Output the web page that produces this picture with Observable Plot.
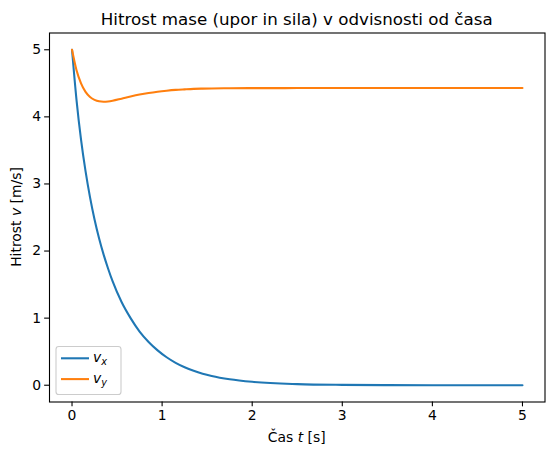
<!DOCTYPE html>
<html>
<head>
<meta charset="utf-8">
<script src="https://cdn.jsdelivr.net/npm/d3@7"></script>
<script src="https://cdn.jsdelivr.net/npm/@observablehq/plot@0.6"></script>
<style>
  html, body { margin: 0; padding: 0; background: white; }
  #chart svg { display: block; }
</style>
</head>
<body>
<div id="chart"></div>
<script>
// Time samples [s] and values
const tValues = [0, 0.05, 0.1, 0.15, 0.2, 0.25, 0.3, 0.35, 0.4, 0.45, 0.55, 0.65, 0.75, 0.85, 0.95, 1.05, 1.15, 1.25, 1.35, 1.45, 1.55, 1.75, 2.0, 2.5, 3.0, 3.5, 4.0, 4.5, 5.0];
const vxValues = [5, 4.25, 3.66, 3.19, 2.80, 2.47, 2.19, 1.95, 1.74, 1.55, 1.24, 1.00, 0.80, 0.645, 0.52, 0.417, 0.334, 0.268, 0.215, 0.172, 0.138, 0.089, 0.051, 0.017, 0.0055, 0.0018, 0.0006, 0.0002, 0.0001];
const vyValues = [5, 4.695, 4.50, 4.373, 4.297, 4.254, 4.232, 4.226, 4.230, 4.240, 4.271, 4.303, 4.332, 4.356, 4.375, 4.390, 4.402, 4.410, 4.417, 4.421, 4.424, 4.426, 4.428, 4.429, 4.429, 4.429, 4.429, 4.429, 4.429];
const xTicks = [0, 1, 2, 3, 4, 5];
const yTicks = [0, 1, 2, 3, 4, 5];
const seriesNames = ["v_x", "v_y"];
const seriesColors = ["#1f77b4", "#ff7f0e"];
const titleText = "Hitrost mase (upor in sila) v odvisnosti od časa";

const data = tValues.map((t, i) => ({t, vx: vxValues[i], vy: vyValues[i]}));

const W = 554, H = 457;
const mL = 49, mR = 9.5, mT = 32.5, mB = 55.5;
const fs = 13.9;

const chart = Plot.plot({
  width: W, height: H,
  marginLeft: mL, marginRight: mR, marginTop: mT, marginBottom: mB,
  x: {domain: [-0.25, 5.25]},
  y: {domain: [-0.25, 5.25]},
  style: {fontFamily: "DejaVu Sans", fontSize: fs + "px", background: "white", color: "black", overflow: "visible"},
  marks: [
    Plot.line(data, {x: "t", y: "vx", stroke: seriesColors[0], strokeWidth: 2.08, curve: "monotone-x"}),
    Plot.line(data, {x: "t", y: "vy", stroke: seriesColors[1], strokeWidth: 2.08, curve: "monotone-x"}),
    Plot.axisX({ticks: xTicks, tickFormat: d3.format("d"), tickSize: 4.86, tickPadding: 3.5, label: null, strokeWidth: 1.1, fontSize: fs}),
    Plot.axisY({ticks: yTicks, tickFormat: d3.format("d"), tickSize: 4.86, tickPadding: 3.5, label: null, strokeWidth: 1.1, fontSize: fs}),
    Plot.frame({stroke: "black", strokeWidth: 1.1})
  ]
});
document.getElementById("chart").appendChild(chart);

const svg = d3.select(chart);
const cx = (mL + (W - mR)) / 2;
const cy = (mT + (H - mB)) / 2;

// Title
svg.append("text")
  .attr("x", cx).attr("y", 24.5)
  .attr("text-anchor", "middle")
  .attr("font-family", "DejaVu Sans").attr("font-size", 16.7).attr("fill", "black")
  .text(titleText);

// X label: Čas t [s]
const xl = svg.append("text")
  .attr("x", cx).attr("y", 442)
  .attr("text-anchor", "middle")
  .attr("font-family", "DejaVu Sans").attr("font-size", fs).attr("fill", "black");
xl.append("tspan").text("Čas ");
xl.append("tspan").attr("font-style", "italic").text("t");
xl.append("tspan").text(" [s]");

// Y label: Hitrost v [m/s]
const yl = svg.append("text")
  .attr("transform", `translate(21,${cy}) rotate(-90)`)
  .attr("text-anchor", "middle")
  .attr("font-family", "DejaVu Sans").attr("font-size", fs).attr("fill", "black");
yl.append("tspan").text("Hitrost ");
yl.append("tspan").attr("font-style", "italic").text("v");
yl.append("tspan").text(" [m/s]");

// Legend
const lg = svg.append("g");
lg.append("rect")
  .attr("x", 56).attr("y", 346.5).attr("width", 65).attr("height", 48)
  .attr("rx", 2.8).attr("fill", "white").attr("fill-opacity", 0.8)
  .attr("stroke", "#cccccc").attr("stroke-width", 1.1);
seriesNames.forEach((name, i) => {
  const y = 358.3 + i * 20.8;
  lg.append("line").attr("x1", 61).attr("x2", 89).attr("y1", y).attr("y2", y)
    .attr("stroke", seriesColors[i]).attr("stroke-width", 2.08);
  const tx = lg.append("text").attr("x", 100).attr("y", y + 4)
    .attr("font-family", "DejaVu Sans").attr("font-size", fs).attr("fill", "black");
  const [base, sub] = name.split("_");
  tx.append("tspan").attr("font-style", "italic").text(base);
  tx.append("tspan").attr("font-style", "italic").attr("font-size", fs * 0.7).attr("dy", 2.5).text(sub);
});
</script>
</body>
</html>
